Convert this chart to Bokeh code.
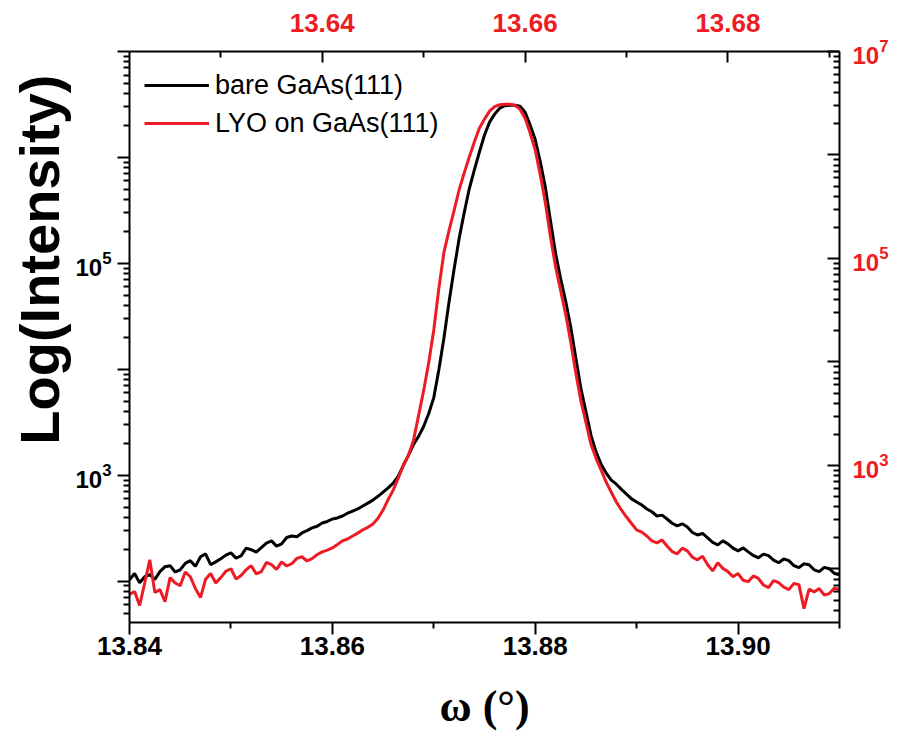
from bokeh.plotting import figure
from bokeh.models import (Range1d, LinearAxis, LogAxis, LogScale, LinearScale, FixedTicker,
                          PrintfTickFormatter, LogTickFormatter, Legend, LegendItem, Title)
from bokeh.embed import file_html
from bokeh.resources import INLINE

# ---- data ----
omega = [13.8400, 13.8405, 13.8410, 13.8415, 13.8420, 13.8425, 13.8430, 13.8435, 13.8440, 13.8445,
         13.8450, 13.8455, 13.8460, 13.8465, 13.8470, 13.8475, 13.8480, 13.8485, 13.8490, 13.8495,
         13.8500, 13.8505, 13.8510, 13.8515, 13.8520, 13.8525, 13.8530, 13.8535, 13.8540, 13.8545,
         13.8550, 13.8555, 13.8560, 13.8565, 13.8570, 13.8575, 13.8580, 13.8585, 13.8590, 13.8595,
         13.8600, 13.8605, 13.8610, 13.8615, 13.8620, 13.8625, 13.8630, 13.8635, 13.8640, 13.8645,
         13.8650, 13.8655, 13.8660, 13.8665, 13.8670, 13.8675, 13.8680, 13.8685, 13.8690, 13.8695,
         13.8700, 13.8705, 13.8710, 13.8715, 13.8720, 13.8725, 13.8730, 13.8735, 13.8740, 13.8745,
         13.8750, 13.8755, 13.8760, 13.8765, 13.8770, 13.8775, 13.8780, 13.8785, 13.8790, 13.8795,
         13.8800, 13.8805, 13.8810, 13.8815, 13.8820, 13.8825, 13.8830, 13.8835, 13.8840, 13.8845,
         13.8850, 13.8855, 13.8860, 13.8865, 13.8870, 13.8875, 13.8880, 13.8885, 13.8890, 13.8895,
         13.8900, 13.8905, 13.8910, 13.8915, 13.8920, 13.8925, 13.8930, 13.8935, 13.8940, 13.8945,
         13.8950, 13.8955, 13.8960, 13.8965, 13.8970, 13.8975, 13.8980, 13.8985, 13.8990, 13.8995,
         13.9000, 13.9005, 13.9010, 13.9015, 13.9020, 13.9025, 13.9030, 13.9035, 13.9040, 13.9045,
         13.9050, 13.9055, 13.9060, 13.9065, 13.9070, 13.9075, 13.9080, 13.9085, 13.9090, 13.9095,
         13.9100]

bare_gaas = [103, 118, 96.5, 110, 115, 104, 123, 137, 140, 122,
             128, 147, 156, 138, 170, 181, 143, 152, 163, 176,
             185, 165, 173, 205, 198, 188, 207, 229, 240, 214,
             225, 258, 267, 262, 285, 300, 318, 330, 354, 366,
             386, 395, 412, 438, 459, 480, 512, 545, 582, 632,
             692, 760, 841, 979, 1241, 1541, 1955, 2324, 2885, 3821,
             5400, 9890, 19760, 43030, 87850, 171700, 301200, 506200, 763100, 1125000,
             1627000, 2154000, 2562000, 2917000, 3078000, 3112000, 3112000, 3045000, 2675000, 2020000,
             1476000, 907500, 522800, 253300, 125500, 72320, 43970, 25070, 12830, 6630,
             3990, 2375, 1662, 1269, 1044, 900, 823, 735, 663, 598,
             558, 525, 480, 452, 412, 420, 386, 352, 332, 348,
             325, 288, 273, 282, 256, 232, 220, 240, 225, 205,
             193, 206, 189, 175, 166, 180, 174, 158, 149, 162,
             156, 140, 134, 146, 143, 128, 123, 135, 131, 118,
             115]

lyo_gaas = [74.7, 80, 58.9, 96, 159, 78, 83.2, 64, 108, 96,
            90.7, 122, 110, 85, 70.0, 104, 118, 96, 108, 124,
            131, 105, 113, 128, 140, 117, 123, 150, 143, 129,
            152, 139, 146, 164, 170, 155, 163, 178, 189, 196,
            206, 222, 240, 250, 267, 284, 305, 322, 347, 392,
            469, 590, 723, 937, 1241, 1541, 2131, 3660, 6283, 11510,
            23490, 58260, 126900, 204100, 314600, 495400, 715200, 1011000, 1398000, 1892000,
            2299000, 2733000, 3013000, 3146000, 3180000, 3180000, 3112000, 2854000, 2349000, 1698000,
            1176000, 685000, 374000, 179300, 93720, 55790, 33200, 18130, 9273, 5061,
            3146, 1955, 1444, 1114, 860, 690, 558, 470, 403, 350,
            305, 290, 267, 240, 230, 245, 215, 190, 181, 205,
            193, 168, 159, 172, 143, 125, 149, 132, 123, 110,
            118, 102, 98.9, 112, 106, 92, 86.9, 101, 96.8, 88,
            83.2, 95, 92.7, 55, 84, 79, 85.0, 74, 76.3, 86,
            83.2]

bottom_ticks = [13.84, 13.86, 13.88, 13.90]
bottom_minor = [13.85, 13.87, 13.89, 13.91]
top_ticks = [13.64, 13.66, 13.68]
top_minor = [13.63, 13.65, 13.67, 13.69]
decades = [1e2, 1e3, 1e4, 1e5, 1e6, 1e7]
left_hidden = [1e2, 1e4, 1e6, 1e7]
right_hidden = [1e2, 1e4, 1e6]
y_title = "Log(Intensity)"
x_title = "ω (°)"

RED = "#ed1c24"
FONT = "Liberation Sans"

minor_log = [m * 10 ** e for e in range(1, 7) for m in range(2, 10)]

p = figure(width=904, height=738, output_backend="svg", toolbar_location=None,
           y_axis_type="log",
           x_range=Range1d(13.84, 13.91), y_range=Range1d(40.7, 1e7),
           min_border_left=129, min_border_right=65, min_border_top=51, min_border_bottom=116,
           background_fill_color="white", border_fill_color="white")
p.outline_line_color = None
p.xgrid.visible = False
p.ygrid.visible = False

p.extra_x_ranges = {"top": Range1d(13.621, 13.691)}
p.extra_x_scales = {"top": LinearScale()}
p.extra_y_ranges = {"right": Range1d(30.4, 1e7)}
p.extra_y_scales = {"right": LogScale()}

r1 = p.line(omega, bare_gaas, line_color="black", line_width=3)
r2 = p.line(omega, lyo_gaas, line_color=RED, line_width=3)


def style(ax, tick_in, tick_out, color, size, standoff):
    ax.axis_line_width = 2
    ax.axis_line_color = "black"
    ax.major_tick_line_width = 2
    ax.minor_tick_line_width = 2
    ax.major_tick_line_color = "black"
    ax.minor_tick_line_color = "black"
    ax.major_tick_in = tick_in
    ax.major_tick_out = tick_out
    ax.minor_tick_in = 6 if tick_in else 0
    ax.minor_tick_out = 6 if tick_out else 0
    ax.major_label_text_font = FONT
    ax.major_label_text_font_style = "bold"
    ax.major_label_text_font_size = size
    ax.major_label_text_color = color
    ax.major_label_standoff = standoff


# bottom axis
xb = p.xaxis[0]
xb.ticker = FixedTicker(ticks=bottom_ticks, minor_ticks=bottom_minor)
xb.formatter = PrintfTickFormatter(format="%.2f")
style(xb, 0, 12, "black", "26px", 2)
xb.axis_label = x_title
xb.axis_label_text_font = "Liberation Serif"
xb.axis_label_text_font_style = "bold"
xb.axis_label_text_font_size = "44px"
xb.axis_label_text_color = "black"
xb.axis_label_standoff = 24

# left axis: power-of-ten labels on odd decades only
yl = p.yaxis[0]
yl.ticker = FixedTicker(ticks=decades, minor_ticks=minor_log)
yl.formatter = LogTickFormatter()
yl.major_label_overrides = {d: "" for d in left_hidden}
style(yl, 0, 12, "black", "24px", 6)

# y title as a side panel, sitting toward the top as in the reference
ytitle = Title(text=y_title, align="right", offset=23, standoff=4,
               text_font=FONT, text_font_style="bold", text_font_size="56px",
               text_color="black")
p.add_layout(ytitle, "left")

# top axis
xt = LinearAxis(x_range_name="top")
xt.ticker = FixedTicker(ticks=top_ticks, minor_ticks=top_minor)
xt.formatter = PrintfTickFormatter(format="%.2f")
style(xt, 11, 0, RED, "26px", 20)
p.add_layout(xt, "above")

# right axis
yr = LogAxis(y_range_name="right")
yr.ticker = FixedTicker(ticks=decades, minor_ticks=minor_log)
yr.formatter = LogTickFormatter()
yr.major_label_overrides = {d: "" for d in right_hidden}
style(yr, 12, 0, RED, "24px", 13)
p.add_layout(yr, "right")

legend = Legend(items=[LegendItem(label="bare GaAs(111)", renderers=[r1]),
                       LegendItem(label="LYO on GaAs(111)", renderers=[r2])],
                location="top_left")
legend.border_line_color = None
legend.background_fill_alpha = 0
legend.label_text_font = FONT
legend.label_text_font_size = "27px"
legend.label_text_color = "black"
legend.glyph_width = 65
legend.glyph_height = 38
legend.label_height = 38
legend.label_standoff = 6
legend.spacing = 0
legend.margin = 15
legend.padding = 8
p.add_layout(legend)

open("out.html", "w").write(file_html(p, INLINE))
